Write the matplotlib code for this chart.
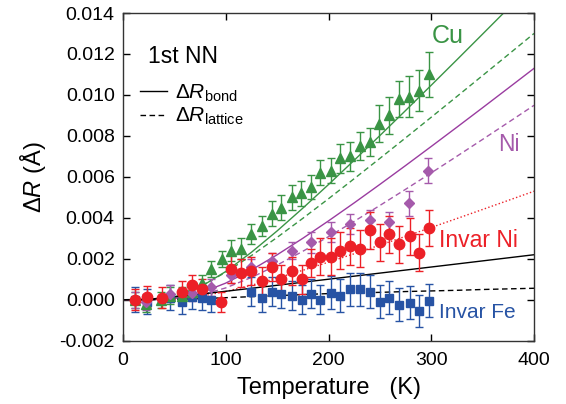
import numpy as np
import matplotlib
matplotlib.use("Agg")
import matplotlib.pyplot as plt
from matplotlib.lines import Line2D

plt.rcParams['font.family'] = ['Liberation Sans', 'DejaVu Sans']
plt.rcParams['mathtext.fontset'] = 'custom'
plt.rcParams['mathtext.rm'] = 'Liberation Sans'
plt.rcParams['mathtext.it'] = 'Liberation Sans:italic'
plt.rcParams['axes.unicode_minus'] = False

# model curves
T_fit = [0, 25, 50, 75, 100, 125, 150, 175, 200, 225, 250, 275, 300, 325, 350, 375, 400]
cu_bond = [0, 0.0000014, 0.000131, 0.000613, 0.001378, 0.002317, 0.003360, 0.004471, 0.005625,
           0.006810, 0.008016, 0.009239, 0.010475, 0.011719, 0.012973, 0.014232, 0.015495]
cu_latt = [0, 0.0000031, 0.000164, 0.000645, 0.001341, 0.002157, 0.003043, 0.003974, 0.004931,
           0.005910, 0.006901, 0.007903, 0.008912, 0.009927, 0.010949, 0.011972, 0.013001]
ni_bond = [0, 0.0000003, 0.000054, 0.000322, 0.000812, 0.001454, 0.002195, 0.003000, 0.003850,
           0.004729, 0.005632, 0.006552, 0.007485, 0.008427, 0.009377, 0.010335, 0.011297]
ni_latt = [0, 0.0000001, 0.000029, 0.000210, 0.000578, 0.001089, 0.001694, 0.002366, 0.003081,
           0.003829, 0.004603, 0.005392, 0.006194, 0.007008, 0.007830, 0.008659, 0.009493]
invni_bond = [0, 0.0000002, 0.000029, 0.000164, 0.000402, 0.000709, 0.001059, 0.001437, 0.001835,
              0.002246, 0.002667, 0.003095, 0.003528, 0.003966, 0.004408, 0.004851, 0.005298]
invfe_bond = [0, 0.000027, 0.000137, 0.000272, 0.000414, 0.000559, 0.000706, 0.000854, 0.001002,
              0.001151, 0.001300, 0.001449, 0.001598, 0.001747, 0.001897, 0.002047, 0.002197]
invfe_latt = [0, 0.0, 0.00002, 0.00005, 0.0001, 0.00015, 0.0002, 0.00025, 0.0003,
              0.00033, 0.00036, 0.0004, 0.00043, 0.00046, 0.0005, 0.00053, 0.00056]

# measured points
T_cu = [12, 22, 37, 46, 57, 67, 77, 86, 96, 105, 115, 125, 135, 145, 154, 164, 173, 183, 192, 202,
        211, 221, 231, 240, 249, 259, 269, 278, 288, 298]
dR_cu = [0.0000, -0.0002, 0.0000, 0.0002, 0.0002, 0.0004, 0.0008, 0.0015, 0.0020, 0.0024, 0.0025,
         0.0032, 0.0036, 0.0042, 0.0045, 0.0050, 0.0052, 0.0055, 0.0062, 0.0063, 0.0069, 0.0070,
         0.0075, 0.0077, 0.0086, 0.0090, 0.0098, 0.0099, 0.0102, 0.0110]
err_cu = [0.0004, 0.0004, 0.0004, 0.0004, 0.0004, 0.0004, 0.0004, 0.0004, 0.0004, 0.0005, 0.0005,
          0.0005, 0.0005, 0.0006, 0.0006, 0.0006, 0.0006, 0.0006, 0.0006, 0.0006, 0.0007, 0.0007,
          0.0007, 0.0007, 0.0009, 0.0009, 0.0009, 0.0010, 0.0010, 0.0011]

T_ni = [12, 22, 46, 67, 86, 105, 125, 145, 164, 183, 202, 221, 240, 259, 278, 297]
dR_ni = [0.0000, -0.0001, 0.0003, 0.00035, 0.0006, 0.0012, 0.0016, 0.0019, 0.0024, 0.0028,
         0.0033, 0.0037, 0.0039, 0.0038, 0.0047, 0.0063]
err_ni = [0.0004, 0.0004, 0.0004, 0.0004, 0.0004, 0.0004, 0.0004, 0.0004, 0.0004, 0.0005,
          0.0005, 0.0005, 0.0005, 0.0005, 0.0006, 0.0006]

T_invni = [12, 23, 38, 57, 67, 77, 95, 105, 115, 125, 135, 145, 154, 164, 174, 183, 192, 202,
           211, 221, 231, 240, 250, 259, 269, 279, 288, 298]
dR_invni = [0.0000, 0.00015, 0.0001, 0.0004, 0.0007, 0.0005, -0.0001, 0.0015, 0.0013, 0.0014,
            0.0009, 0.0016, 0.0010, 0.0014, 0.0010, 0.0018, 0.0021, 0.0021, 0.0024, 0.0026,
            0.0025, 0.0034, 0.0028, 0.0032, 0.0027, 0.0031, 0.0023, 0.0035]
err_invni = [0.0005, 0.0005, 0.0005, 0.0005, 0.0005, 0.0005, 0.0005, 0.0007, 0.0007, 0.0007,
             0.0007, 0.0007, 0.0007, 0.0007, 0.0007, 0.0007, 0.0009, 0.0009, 0.0009, 0.0009,
             0.0009, 0.0009, 0.0009, 0.0009, 0.0009, 0.0009, 0.0009, 0.0009]

T_invfe = [12, 23, 46, 57, 67, 77, 86, 125, 135, 145, 154, 164, 174, 183, 192, 202, 211, 221,
           231, 240, 250, 259, 269, 279, 288, 298]
dR_invfe = [0.0, -0.0001, 0.0001, -0.0001, 0.00015, 0.0001, 0.0, 0.0004, 0.0001, 0.0004, 0.0003,
            0.0002, 0.0, 0.0003, 0.0000, 0.00035, 0.0002, 0.0005, 0.0005, 0.0004, -0.0001, 0.0001,
            -0.00025, -0.00015, -0.00055, -0.00005]
err_invfe = [0.0006, 0.0006, 0.0006, 0.0006, 0.0006, 0.0006, 0.0006, 0.0007, 0.0007, 0.0007,
             0.0007, 0.0007, 0.0007, 0.0007, 0.0007, 0.0008, 0.0008, 0.0008, 0.0008, 0.0008,
             0.0008, 0.0008, 0.0008, 0.0008, 0.0008, 0.0008]

green = '#3a9445'
purple = '#a55aab'
purple_line = '#9a3ca0'
red = '#ec2027'
blue = '#2753a4'

fig = plt.figure(figsize=(5.66, 4.04), dpi=100)
ax = fig.add_axes([0.2173, 0.1567, 0.7262, 0.8111])

ax.plot(T_fit, cu_bond, '-', color=green, lw=1)
ax.plot(T_fit, cu_latt, '--', color=green, lw=1, dashes=(4, 2.5))
ax.plot(T_fit, ni_bond, '-', color=purple_line, lw=1)
ax.plot(T_fit, ni_latt, '--', color=purple, lw=1, dashes=(4, 2.5))
ax.plot(T_fit, invni_bond, ':', color=red, lw=1)
ax.plot(T_fit, invfe_bond, '-', color='black', lw=1)
ax.plot(T_fit, invfe_latt, '--', color='black', lw=1, dashes=(4, 2.5))

ax.errorbar(T_invfe, dR_invfe, yerr=err_invfe, fmt='s', color=blue, ms=6, capsize=3, elinewidth=1, capthick=1)
ax.errorbar(T_cu, dR_cu, yerr=err_cu, fmt='^', color=green, ms=7.5, capsize=3, elinewidth=1, capthick=1)
ax.errorbar(T_ni, dR_ni, yerr=err_ni, fmt='D', color=purple, ms=5.5, capsize=3, elinewidth=1, capthick=1)
ax.errorbar(T_invni, dR_invni, yerr=err_invni, fmt='o', color=red, ms=7.5, capsize=3, elinewidth=1, capthick=1)

ax.text(300, 0.01255, 'Cu', color=green, fontsize=18)
ax.text(365, 0.00724, 'Ni', color=purple, fontsize=16.5)
ax.text(308, 0.00257, 'Invar Ni', color=red, fontsize=16.5)
ax.text(308, -0.0009, 'Invar Fe', color=blue, fontsize=15)
ax.text(24, 0.01156, '1st NN', color='black', fontsize=16.5)

handles = [Line2D([], [], color='black', lw=1, ls='-'),
           Line2D([], [], color='black', lw=1, ls='--', dashes=(4, 2.5))]
ax.legend(handles, [r'$\Delta R_{\mathrm{bond}}$', r'$\Delta R_{\mathrm{lattice}}$'],
          loc='center left', bbox_to_anchor=(0.02, 0.72), frameon=False, fontsize=15,
          handlelength=1.3, handletextpad=0.4, labelspacing=0.1, borderaxespad=0)

ax.set_xlim(0, 400)
ax.set_ylim(-0.002, 0.014)
ax.set_xticks([0, 100, 200, 300, 400])
ax.set_yticks(np.arange(-0.002, 0.0141, 0.002))
ax.set_yticklabels(['%.3f' % v for v in np.arange(-0.002, 0.0141, 0.002)])
ax.tick_params(direction='in', length=5, width=1, top=True, right=True, labelsize=14, pad=6)
ax.tick_params(axis='x', pad=8)
for s in ax.spines.values():
    s.set_linewidth(1)
    s.set_color('#333333')

ax.set_xlabel('Temperature   (K)', fontsize=17, labelpad=6)
ax.set_ylabel(r'$\Delta R$ (Å)', fontsize=17, labelpad=8)

fig.savefig('out.png', dpi=100)
